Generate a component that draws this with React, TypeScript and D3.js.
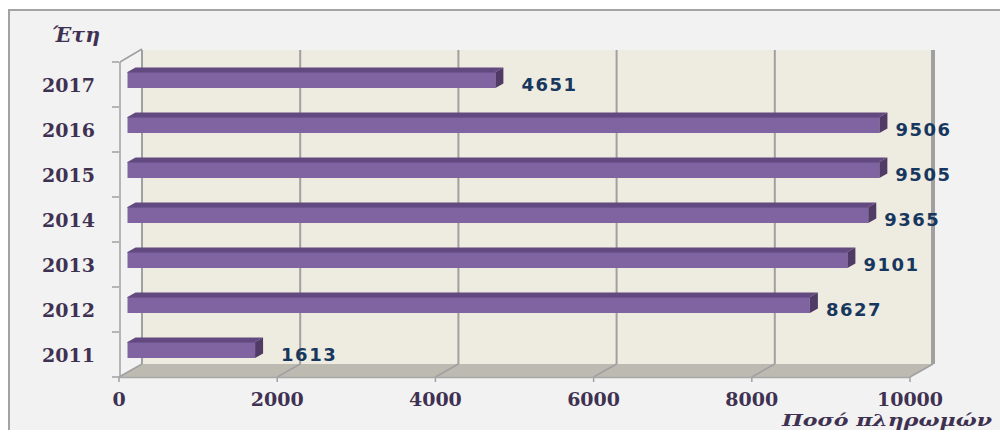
import React from 'react'
import * as d3 from 'd3'

const years = ['2011', '2012', '2013', '2014', '2015', '2016', '2017']
const payments = [1613, 8627, 9101, 9365, 9505, 9506, 4651]
const xTicks = [0, 2000, 4000, 6000, 8000, 10000]
const yTitle = 'Έτη'
const xTitle = 'Ποσό πληρωμών'

export default function App() {
  const width = 1000
  const height = 430
  // 3d depth of the plot box
  const dx = 23
  const dy = -13
  const x = d3.scaleLinear().domain([0, 10000]).range([119, 910])
  const y = d3.scaleBand().domain([...years].reverse()).range([62, 377]).padding(0)
  const bw = y.bandwidth()
  const floorY = 377
  const wallTop = 50

  const labelFont = '"DejaVu Serif", "Liberation Serif", serif'
  const valueFont = '"DejaVu Sans", Verdana, sans-serif'

  return (
    <svg width={width} height={height} style={{ position: 'absolute', left: 0, top: 0 }}>
      <rect x={0} y={0} width={width} height={height} fill="#ffffff" />
      <rect x={9} y={10} width={1100} height={500} fill="#f2f2f2" stroke="#a3a3a3" strokeWidth={2} />

      {/* back wall */}
      <rect x={x(0) + dx} y={wallTop} width={x(10000) - x(0)} height={floorY + dy - wallTop} fill="#eeebe0" />
      {/* floor */}
      <polygon
        points={`${x(0)},${floorY} ${x(10000)},${floorY} ${x(10000) + dx},${floorY + dy} ${x(0) + dx},${floorY + dy}`}
        fill="#bdbab2"
      />
      {/* gridlines */}
      {xTicks.map(t => (
        <g key={t} stroke="#a0a0a0">
          <line x1={x(t) + dx} x2={x(t) + dx} y1={wallTop} y2={floorY + dy} strokeWidth={t === 10000 ? 4 : 2} />
          <line x1={x(t)} y1={floorY} x2={x(t) + dx} y2={floorY + dy} strokeWidth={1.5} />
          <line x1={x(t)} x2={x(t)} y1={floorY} y2={floorY + 5} strokeWidth={1.5} />
        </g>
      ))}
      {/* left wall edges */}
      <line x1={x(0) + 1} y1={y('2017')!} x2={x(0) + dx} y2={wallTop - 1} stroke="#a0a0a0" strokeWidth={1.5} />
      <line x1={x(0) + 1} x2={x(0) + 1} y1={y('2017')!} y2={floorY} stroke="#a0a0a0" strokeWidth={1.5} />
      <line x1={x(0)} x2={x(10000)} y1={floorY + 0.5} y2={floorY + 0.5} stroke="#a8a8a8" strokeWidth={1.5} />
      {/* y ticks */}
      {[...years.map(c => y(c)!), floorY].map((v, i) => (
        <line key={i} x1={x(0) - 7} x2={x(0)} y1={v} y2={v} stroke="#a0a0a0" strokeWidth={1.5} />
      ))}

      {/* bars */}
      {years.map((c, i) => {
        const v = payments[i]
        const x0 = x(0) + 8.5
        const x1 = x(v) + 8.5
        const cy = y(c)! + bw / 2 - 4.5
        const top = cy - 8
        const bot = cy + 8
        const ddx = 8
        const ddy = -4.5
        const gap = v > 5000 ? 8 : 18
        return (
          <g key={c}>
            <polygon
              points={`${x0},${top} ${x1},${top} ${x1 + ddx},${top + ddy} ${x0 + ddx},${top + ddy}`}
              fill="#62497f"
            />
            <rect x={x0} y={top} width={x1 - x0} height={bot - top} fill="#8064a2" />
            <line x1={x0} x2={x1} y1={top + 0.5} y2={top + 0.5} stroke="#6d5490" strokeWidth={1} />
            <polygon
              points={`${x1},${top} ${x1 + ddx},${top + ddy} ${x1 + ddx},${bot + ddy} ${x1},${bot}`}
              fill="#4f3b66"
            />
            <text
              x={x1 + ddx + gap}
              y={y(c)! + bw / 2 + 6.3}
              fontFamily={valueFont}
              fontWeight="bold"
              fontSize={18}
              letterSpacing={1.5}
              fill="#17375e"
            >
              {v}
            </text>
          </g>
        )
      })}

      {/* y labels */}
      {years.map(c => (
        <text
          key={c}
          x={95}
          y={y(c)! + bw / 2 + 7}
          textAnchor="end"
          fontFamily={labelFont}
          fontWeight="bold"
          fontSize={19}
          fill="#3f3151"
        >
          {c}
        </text>
      ))}
      {/* x labels */}
      {xTicks.map(t => (
        <text
          key={t}
          x={x(t)}
          y={406}
          textAnchor="middle"
          fontFamily={labelFont}
          fontWeight="bold"
          fontSize={19}
          fill="#3f3151"
        >
          {t}
        </text>
      ))}

      <text x={52} y={42} textLength={48} lengthAdjust="spacingAndGlyphs" fontFamily={labelFont} fontWeight="bold" fontStyle="italic" fontSize={21} fill="#3f3151">
        {yTitle}
      </text>
      <text x={782} y={426} textLength={210} lengthAdjust="spacingAndGlyphs" fontFamily={labelFont} fontWeight="bold" fontStyle="italic" fontSize={17} fill="#3f3151">
        {xTitle}
      </text>
    </svg>
  )
}
